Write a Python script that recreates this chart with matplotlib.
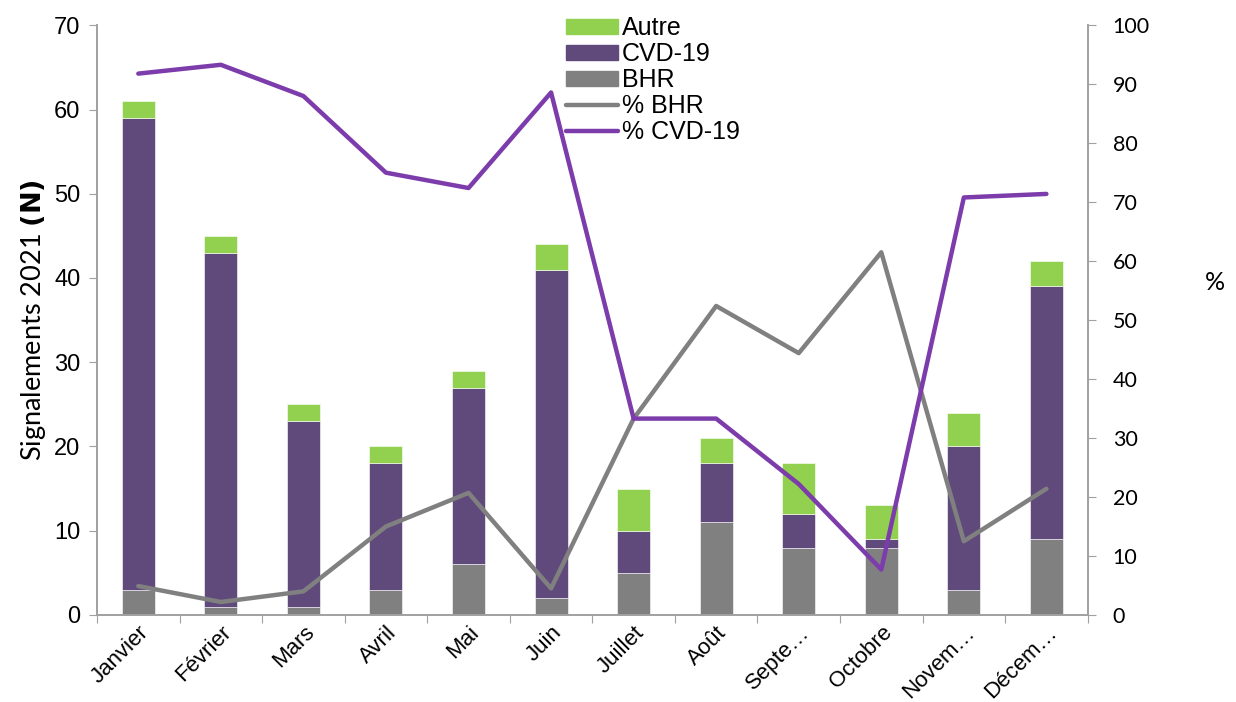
import matplotlib
matplotlib.use("Agg")
import matplotlib.pyplot as plt
from matplotlib.patches import Patch
from matplotlib.lines import Line2D
import numpy as np

# monthly reports 2021
months = ["Janvier", "Février", "Mars", "Avril", "Mai", "Juin",
          "Juillet", "Août", "Septe\u2026", "Octobre", "Novem\u2026", "Décem\u2026"]
bhr = [3, 1, 1, 3, 6, 2, 5, 11, 8, 8, 3, 9]
cvd = [56, 42, 22, 15, 21, 39, 5, 7, 4, 1, 17, 30]
autre = [2, 2, 2, 2, 2, 3, 5, 3, 6, 4, 4, 3]
pct_bhr = [4.9, 2.2, 4.0, 15.0, 20.7, 4.5, 33.3, 52.4, 44.4, 61.5, 12.5, 21.4]
pct_cvd = [91.8, 93.3, 88.0, 75.0, 72.4, 88.6, 33.3, 33.3, 22.2, 7.7, 70.8, 71.4]

c_autre = "#92D050"
c_cvd = "#604A7B"
c_bhr = "#808080"
c_line_cvd = "#7D3CAB"
c_axis = "#A0A0A0"

fig = plt.figure(figsize=(12.36, 7.02), dpi=100)
ax = fig.add_axes([0.0785, 0.124, 0.8015, 0.840])
ax2 = ax.twinx()

x = np.arange(len(months))
w = 0.4
bottom2 = np.array(bhr) + np.array(cvd)
ax.bar(x, bhr, w, color=c_bhr, edgecolor="white", linewidth=0.4)
ax.bar(x, cvd, w, bottom=bhr, color=c_cvd, edgecolor="white", linewidth=0.4)
ax.bar(x, autre, w, bottom=bottom2, color=c_autre, edgecolor="white", linewidth=0.4)

ax2.plot(x, pct_bhr, color=c_bhr, lw=3.2, solid_capstyle="round", solid_joinstyle="round")
ax2.plot(x, pct_cvd, color=c_line_cvd, lw=3.2, solid_capstyle="round", solid_joinstyle="round")

ax.set_xlim(-0.5, len(months) - 0.5)
ax.set_ylim(0, 70)
ax.set_yticks(np.arange(0, 71, 10))
ax2.set_ylim(0, 100)
ax2.set_yticks(np.arange(0, 101, 10))

# category ticks sit between the bars
ax.set_xticks(np.arange(-0.5, len(months), 1))
ax.set_xticklabels([])
ax.set_xticks(x, minor=True)
ax.set_xticklabels(months, minor=True, rotation=45, ha="right", va="top",
                   rotation_mode="anchor", fontsize=16, family="Liberation Sans")
ax.tick_params(axis="x", which="minor", length=0, pad=5)
ax.tick_params(axis="x", which="major", length=6, color=c_axis, direction="out")

ax.tick_params(axis="y", length=6, color=c_axis, labelsize=17, pad=6)
for lbl in ax.get_yticklabels():
    lbl.set_family("Liberation Sans")
ax2.tick_params(axis="y", length=6, color=c_axis, labelsize=15.5, pad=12)
for lbl in ax2.get_yticklabels():
    lbl.set_family("Lato")

for a in (ax, ax2):
    a.spines["top"].set_visible(False)
    for s in ("left", "right", "bottom"):
        a.spines[s].set_color(c_axis)
        a.spines[s].set_linewidth(1.2)

ax.set_ylabel(r"Signalements 2021 $\bf{(N)}$", fontsize=19.5, family="Lato", labelpad=4)
ax2.set_ylabel("%", fontsize=18, family="Lato", rotation=0, ha="center", va="center")
ax2.yaxis.set_label_coords(1.128, 0.563)

handles = [
    Patch(color=c_autre, label="Autre"),
    Patch(color=c_cvd, label="CVD-19"),
    Patch(color=c_bhr, label="BHR"),
    Line2D([], [], color=c_bhr, lw=3.2, solid_capstyle="round", label="% BHR"),
    Line2D([], [], color=c_line_cvd, lw=3.2, solid_capstyle="round", label="% CVD-19"),
]
leg = ax2.legend(handles=handles, loc="upper left", bbox_to_anchor=(0.463, 1.032),
                 frameon=False, handlelength=2.1, handleheight=0.55,
                 handletextpad=0.15, labelspacing=0.08, borderaxespad=0,
                 prop={"family": "Liberation Sans", "size": 18})

fig.savefig("out.png", dpi=100)
